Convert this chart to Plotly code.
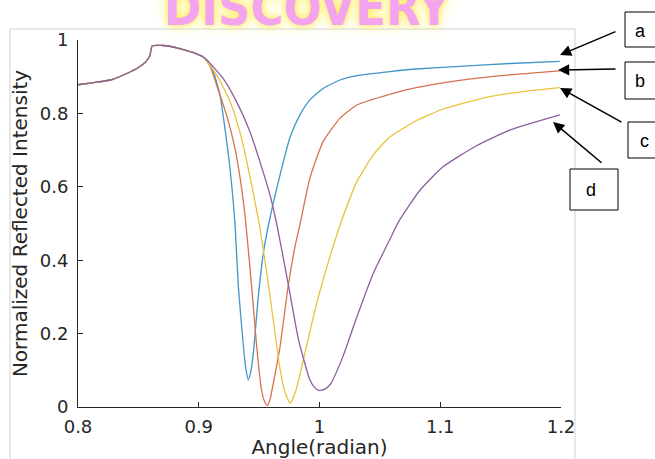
import plotly.graph_objects as go

# ---- data ----
common_x = [0.800, 0.813, 0.827, 0.840, 0.850, 0.856, 0.8595, 0.8615, 0.870, 0.876, 0.885, 0.895, 0.904]
common_y = [0.878, 0.884, 0.891, 0.908, 0.925, 0.940, 0.957, 0.984, 0.985, 0.983, 0.976, 0.966, 0.953]

a_x = [0.908, 0.912, 0.9176, 0.9217, 0.9259, 0.930, 0.9328, 0.937, 0.939, 0.941, 0.943, 0.9452,
       0.9493, 0.9535, 0.958, 0.9673, 0.9756, 0.9838, 0.992, 1.003, 1.017, 1.031, 1.058, 1.080,
       1.116, 1.158, 1.199]
a_y = [0.936, 0.914, 0.850, 0.759, 0.650, 0.500, 0.328, 0.164, 0.105, 0.074, 0.095, 0.146,
       0.300, 0.419, 0.500, 0.632, 0.735, 0.796, 0.837, 0.868, 0.891, 0.903, 0.914, 0.921,
       0.928, 0.936, 0.942]

b_x = [0.909, 0.9148, 0.923, 0.930, 0.9355, 0.939, 0.9438, 0.948, 0.952, 0.9545, 0.9568, 0.959,
       0.9617, 0.9673, 0.974, 0.9797, 0.984, 0.992, 1.003, 1.017, 1.031, 1.058, 1.080, 1.116,
       1.158, 1.199]
b_y = [0.932, 0.877, 0.796, 0.705, 0.596, 0.500, 0.328, 0.164, 0.046, 0.015, 0.004, 0.020,
       0.064, 0.164, 0.328, 0.437, 0.500, 0.623, 0.723, 0.787, 0.823, 0.852, 0.870, 0.890,
       0.905, 0.916]

c_x = [0.9148, 0.926, 0.934, 0.941, 0.9466, 0.950, 0.956, 0.9617, 0.967, 0.971, 0.9756, 0.980,
       0.9866, 0.9977, 1.0087, 1.0175, 1.031, 1.0445, 1.058, 1.080, 1.1025, 1.140, 1.170, 1.199]
c_y = [0.905, 0.832, 0.750, 0.650, 0.559, 0.500, 0.373, 0.237, 0.110, 0.045, 0.010, 0.040,
       0.128, 0.283, 0.410, 0.500, 0.614, 0.687, 0.735, 0.780, 0.812, 0.845, 0.860, 0.870]

d_x = [0.9066, 0.920, 0.9313, 0.9424, 0.9507, 0.959, 0.9645, 0.974, 0.9825, 0.992, 0.9955, 0.9995,
       1.004, 1.009, 1.0197, 1.031, 1.0445, 1.058, 1.0655, 1.083, 1.1025, 1.130, 1.158, 1.199]
d_y = [0.946, 0.896, 0.832, 0.750, 0.668, 0.578, 0.500, 0.337, 0.185, 0.074, 0.055, 0.045,
       0.048, 0.062, 0.140, 0.246, 0.364, 0.455, 0.505, 0.590, 0.655, 0.712, 0.755, 0.796]

series = [
    ("a", a_x, a_y, "#4196c6"),
    ("b", b_x, b_y, "#d6734f"),
    ("c", c_x, c_y, "#e8c33a"),
    ("d", d_x, d_y, "#8c5f9f"),
]

x_ticks = [0.8, 0.9, 1.0, 1.1, 1.2]
x_tick_text = ["0.8", "0.9", "1", "1.1", "1.2"]
y_ticks = [0, 0.2, 0.4, 0.6, 0.8, 1.0]
y_tick_text = ["0", "0.2", "0.4", "0.6", "0.8", "1"]

# ---- layout helpers (pixel -> paper) ----
W, H = 655, 459
L, R, T, B = 78, 94, 40, 52
PW, PH = W - L - R, H - T - B


def px(xp):
    return (xp - L) / PW


def py(yp):
    return (H - B - yp) / PH


fig = go.Figure()
for name, xs, ys, col in series:
    fig.add_trace(go.Scatter(
        x=common_x + xs, y=common_y + ys, mode="lines", name=name,
        line=dict(color=col, width=1.3, shape="spline", smoothing=0.5),
        showlegend=False, hoverinfo="skip"))

font_main = "DejaVu Sans, Liberation Sans, sans-serif"
axcol = "#262626"

fig.update_layout(
    width=W, height=H,
    margin=dict(l=L, r=R, t=T, b=B, autoexpand=False),
    paper_bgcolor="white", plot_bgcolor="white",
    font=dict(family=font_main, size=18, color=axcol),
    xaxis=dict(range=[0.8, 1.2], tickvals=x_ticks, ticktext=x_tick_text,
               ticks="inside", ticklen=5, tickcolor=axcol, showline=True,
               linecolor=axcol, linewidth=1, showgrid=False, zeroline=False,
               automargin=False, tickfont=dict(size=18), ticklabelstandoff=3,
               title=dict(text="Angle(radian)", font=dict(size=20), standoff=0)),
    yaxis=dict(range=[0, 1], tickvals=y_ticks, ticktext=y_tick_text,
               ticks="inside", ticklen=5, tickcolor=axcol, showline=True,
               linecolor=axcol, linewidth=1, showgrid=False, zeroline=False,
               automargin=False, tickfont=dict(size=18), ticklabelstandoff=5,
               title=dict(text="Normalized Reflected Intensity", font=dict(size=20), standoff=6)),
)

shapes = []
# outer grey frame of the original figure
shapes.append(dict(type="rect", xref="paper", yref="paper",
                   x0=px(10), x1=px(575), y0=py(475), y1=py(29),
                   line=dict(color="#d0d0d0", width=1), layer="below"))
# label boxes
boxes = [("a", 625, 662, 12, 47, 640, 31),
         ("b", 625, 662, 62, 99, 640, 81),
         ("c", 628, 662, 122, 158, 644, 141),
         ("d", 570, 618, 169, 210, 591, 190)]
annotations = []
for lab, x0, x1, y0, y1, tx, ty in boxes:
    shapes.append(dict(type="rect", xref="paper", yref="paper",
                       x0=px(x0), x1=px(x1), y0=py(y1), y1=py(y0),
                       line=dict(color="black", width=1), fillcolor="white"))
    annotations.append(dict(xref="paper", yref="paper", x=px(tx), y=py(ty),
                            xanchor="center", yanchor="middle",
                            text=lab, showarrow=False,
                            font=dict(size=18, color="black", family="Liberation Sans, Arial, sans-serif")))

arrows = [(560, 55, 617, 31), (558, 70, 617, 69), (560, 88, 623, 123), (553, 122, 603, 164)]
for hx, hy, tx, ty in arrows:
    annotations.append(dict(xref="paper", yref="paper", x=px(hx), y=py(hy),
                            ax=tx - hx, ay=ty - hy, text="", showarrow=True,
                            arrowhead=2, arrowsize=1.4, arrowwidth=1.6,
                            arrowcolor="black", standoff=0, startstandoff=0))

# watermark at top (partly cut off)
annotations.append(dict(xref="paper", yref="paper", x=px(308), y=py(39),
                        xanchor="center", yanchor="bottom",
                        text="<b>DISCOVERY</b>", showarrow=False,
                        font=dict(size=50, color="#f4a3ef",
                                  family="Liberation Sans Narrow, DejaVu Sans Condensed",
                                  shadow="0px 0px 6px #ffe95a, 0px 0px 14px #fff27a"),
                        ))

fig.update_layout(shapes=shapes, annotations=annotations)
fig.write_html("out.html")
